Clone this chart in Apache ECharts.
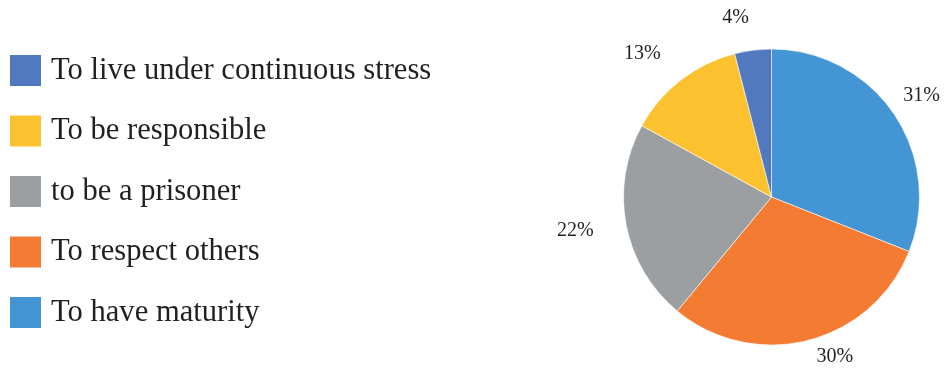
<!DOCTYPE html>
<html>
<head>
<meta charset="utf-8">
<script src="https://cdn.jsdelivr.net/npm/echarts@6/dist/echarts.min.js"></script>
<style>
    html, body { margin: 0; padding: 0; background: #fff; }
    #chart { width: 949px; height: 368px; }
</style>
</head>
<body>
<div id="chart"></div>
<script>
// slices, clockwise from 12 o'clock
const categories = [
    'To have maturity',
    'To respect others',
    'to be a prisoner',
    'To be responsible',
    'To live under continuous stress'
];
const values = [31, 30, 22, 13, 4];
const colors = ['#4495d3', '#f47b32', '#9c9fa2', '#fcc12e', '#5179bf'];

// legend lists them the other way round
const legendOrder = categories.slice().reverse();

const textColor = '#231f20';
const chartWidth = 949;

const myChart = echarts.init(document.getElementById('chart'));
const option = {
    animation: false,
    color: colors,
    legend: {
        orient: 'vertical',
        left: 10,
        top: 55,
        padding: 0,
        itemWidth: 31,
        itemHeight: 31,
        itemGap: 29.5,
        icon: 'rect',
        itemStyle: { borderWidth: 0 },
        data: legendOrder,
        textStyle: {
            fontFamily: 'Liberation Serif',
            fontSize: 30.6,
            lineHeight: 31,
            color: textColor,
            padding: [0, 0, 0, 5]
        }
    },
    series: [
        {
            type: 'pie',
            center: [771.5, 197],
            radius: 148,
            startAngle: 90,
            clockwise: true,
            avoidLabelOverlap: true,
            itemStyle: {
                borderColor: '#fff',
                borderWidth: 0.6
            },
            label: {
                show: true,
                position: 'outside',
                formatter: '{c}%',
                fontFamily: 'Liberation Serif',
                fontSize: 20,
                color: textColor,
                width: 40,
                distanceToLabelLine: 0
            },
            labelLine: {
                show: false,
                length: 33,
                length2: 0
            },
            // keep labels inside the canvas
            labelLayout: function (params) {
                const r = params.labelRect;
                const over = r.x + r.width - (chartWidth - 9);
                if (over > 0) {
                    return { x: r.x - over, align: 'left' };
                }
                return {};
            },
            emphasis: { disabled: true },
            data: categories.map((name, i) => ({ name: name, value: values[i] }))
        }
    ]
};
myChart.setOption(option);
</script>
</body>
</html>
